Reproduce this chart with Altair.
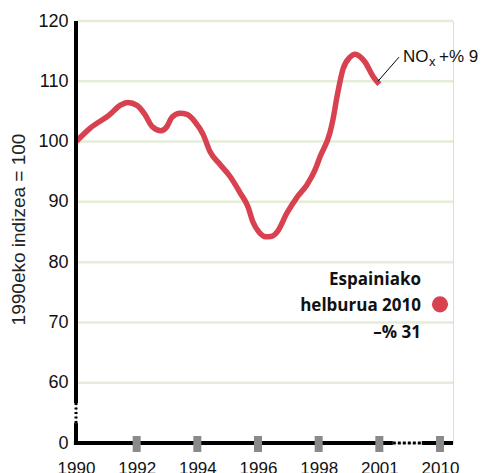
import altair as alt
import pandas as pd

# ---- data ----
years = [1990.0, 1990.46, 1991.12, 1991.45, 1991.71, 1992.01, 1992.27, 1992.51, 1992.80,
         1993.0, 1993.16, 1993.43, 1993.66, 1993.92, 1994.19, 1994.42, 1994.75, 1995.08,
         1995.41, 1995.67, 1995.83, 1996.03, 1996.26, 1996.46, 1996.63, 1996.96, 1997.29,
         1997.61, 1997.88, 1998.07, 1998.56, 1998.71, 1998.91, 1999.20, 1999.55, 1999.80,
         2000.29, 2000.69, 2001.0]
nox_index = [100.0, 102.2, 104.5, 106.0, 106.5, 106.0, 104.5, 102.5, 101.8,
             102.5, 104.0, 104.7, 104.5, 103.3, 101.2, 98.3, 96.2, 94.2,
             91.5, 89.2, 86.7, 85.0, 84.2, 84.3, 85.0, 88.2, 90.8,
             92.8, 95.3, 97.5, 101.5, 103.7, 107.5, 112.0, 114.0, 114.5,
             113.2, 110.8, 109.5]

x_tick_years = [1990, 1992, 1994, 1996, 1998, 2001, 2010]
marker_years = [1992, 1994, 1996, 1998, 2001, 2010]
y_tick_values = [50, 60, 70, 80, 90, 100, 110, 120]   # 50 is shown as "0" (broken axis)
grid_values = [60, 70, 80, 90, 100, 110, 120]

target_year = [2010]
target_value = [73]
target_text = ["Espainiako\nhelburua 2010\n\u2013% 31"]

RED = "#d8414f"
W, H = 377, 422

xs = alt.Scale(domain=[1990, 1998, 2001, 2011.93], range=[0, 242.67, 303.33, W], zero=False)
ys = alt.Scale(domain=[50, 120], zero=False, nice=False)

xaxis = alt.Axis(values=x_tick_years, format="d", domain=False, ticks=False, grid=False,
                 labelFont="Liberation Sans", labelFontSize=17, labelColor="#111",
                 labelPadding=17, labelFlush=False, labelOverlap=False, title=None)
yaxis = alt.Axis(values=y_tick_values, labelExpr="datum.value == 50 ? '0' : datum.label",
                 domain=False, ticks=False, grid=False,
                 labelFont="Liberation Sans", labelFontSize=18, labelColor="#111",
                 labelPadding=8, labelFlush=False, labelOverlap=False,
                 title="1990eko indizea = 100", titleFont="Liberation Sans",
                 titleFontSize=19, titleFontWeight="normal", titleColor="#222",
                 titleX=-58, titleY=208, titleAngle=-90, titleAlign="center",
                 titleBaseline="middle")


def X(f="year"):
    return alt.X(f, type="quantitative", scale=xs, axis=xaxis)


def Y(f="value"):
    return alt.Y(f, type="quantitative", scale=ys, axis=yaxis)


line_df = pd.DataFrame({"year": years, "value": nox_index})
grid_df = pd.DataFrame({"value": grid_values})
marker_df = pd.DataFrame({"year": marker_years, "value": [50] * len(marker_years)})
target_df = pd.DataFrame({"year": target_year, "value": target_value, "label": target_text})

# axis line pieces (broken axes)
yaxis_solid = pd.DataFrame({"year": [1990, 1990], "value": [120, 53.3], "value2": [56.65, 49.7]})
yaxis_dot = pd.DataFrame({"year": [1990], "value": [56.65], "value2": [53.3]})
xaxis_solid = pd.DataFrame({"year": [1989.93, 2007.3], "year2": [2003.0, 2011.93], "value": [50, 50]})
xaxis_dot = pd.DataFrame({"year": [2003.0], "year2": [2007.3], "value": [50]})
annot_df = pd.DataFrame({"year": [2000.93], "value": [110.0], "year2": [2003.92], "value2": [114.0]})

grid = alt.Chart(grid_df).mark_rule(color="#e3edd8", strokeWidth=2.5).encode(
    y=Y(), x=alt.value(0), x2=alt.value(W))

ysolid = alt.Chart(yaxis_solid).mark_rule(color="black", strokeWidth=4).encode(
    x=X(), y=Y(), y2="value2")
ydot = alt.Chart(yaxis_dot).mark_rule(color="black", strokeWidth=3, strokeDash=[2, 2.5]).encode(
    x=X(), y=Y(), y2="value2")
xsolid = alt.Chart(xaxis_solid).mark_rule(color="black", strokeWidth=4).encode(
    x=X(), x2="year2", y=Y())
xdot = alt.Chart(xaxis_dot).mark_rule(color="black", strokeWidth=3, strokeDash=[3, 2]).encode(
    x=X(), x2="year2", y=Y())

markers = alt.Chart(marker_df).mark_tick(color="#8a8a8a", thickness=8, size=16, opacity=1,
                                         yOffset=1).encode(x=X(), y=Y())

line = alt.Chart(line_df).mark_line(color=RED, strokeWidth=5.5, interpolate="monotone",
                                    strokeCap="butt", strokeJoin="round").encode(x=X(), y=Y())

annot = alt.Chart(annot_df).mark_rule(color="black", strokeWidth=1).encode(
    x=X(), y=Y(), x2="year2", y2="value2")

end_pt = pd.DataFrame({"year": [2003.92], "value": [114.0]})
t_no = alt.Chart(end_pt).mark_text(text="NO", align="left", baseline="alphabetic", dx=4, dy=5,
                                   font="Liberation Sans", fontSize=17, color="#111").encode(x=X(), y=Y())
t_x = alt.Chart(end_pt).mark_text(text="x", align="left", baseline="alphabetic", dx=30, dy=9,
                                  font="Liberation Sans", fontSize=13, color="#111").encode(x=X(), y=Y())
t_pct = alt.Chart(end_pt).mark_text(text="+% 9", align="left", baseline="alphabetic", dx=40, dy=5,
                                    font="Liberation Sans", fontSize=17, color="#111").encode(x=X(), y=Y())

dot = alt.Chart(target_df).mark_circle(color=RED, size=260, opacity=1).encode(x=X(), y=Y())
dot_text = alt.Chart(target_df).mark_text(align="right", baseline="middle", dx=-19, dy=-24.5,
                                          lineBreak="\n", lineHeight=26.5, font="Open Sans",
                                          fontSize=17, fontWeight="bold", color="#111").encode(
    x=X(), y=Y(), text="label")

chart = alt.layer(grid, line, annot, t_no, t_x, t_pct, dot, dot_text,
                  ysolid, ydot, xsolid, xdot, markers).properties(
    width=W, height=H,
    autosize=alt.AutoSizeParams(type="none"),
    padding={"left": 68, "top": 13, "right": 27, "bottom": 30},
).configure_view(stroke=None).configure(background="white")

chart.save("out.html", embed_options={"renderer": "svg", "actions": False})
